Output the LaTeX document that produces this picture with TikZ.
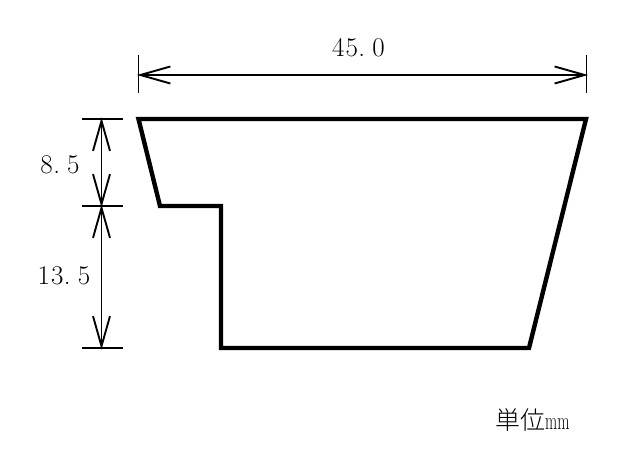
\documentclass[tikz,border=0pt]{standalone}
\usepackage{fontspec}
\newfontfamily\cjkfont{Noto Sans CJK JP Light}
\usetikzlibrary{arrows.meta}
\newcommand{\cellch}[1]{\makebox[13.4pt][c]{#1}}
\newcommand{\cellpt}{\makebox[13.4pt][l]{.}}
\tikzset{
  profile/.style={line width=4.4pt,line join=miter,miter limit=3},
  extline/.style={line width=1.8pt},
  dimline/.style={line width=1.8pt,shorten <=-1.6pt,shorten >=-1.6pt,{Straight Barb[length=30pt,width=17pt,line width=1.9pt]}-{Straight Barb[length=30pt,width=17pt,line width=1.9pt]}},
  dimtext/.style={inner sep=0pt,font=\fontsize{27pt}{30pt}\selectfont},
}
\begin{document}
\begin{tikzpicture}[x=1pt,y=-1pt]
\useasboundingbox (0,0) rectangle (636,463);
\coordinate (a) at (138.5,119);
\coordinate (b) at (586,119);
\coordinate (c) at (529,348);
\coordinate (d) at (221,348);
\coordinate (e) at (221,206);
\coordinate (f) at (160,206);
\draw[profile] (a) -- (b) -- (c) -- (d) -- (e) -- (f) -- cycle;
% top dimension
\coordinate (t1a) at (138.5,55); \coordinate (t1b) at (138.5,93);
\coordinate (t2a) at (586.5,55); \coordinate (t2b) at (586.5,93);
\coordinate (tl) at (138.5,75); \coordinate (tr) at (586.5,75);
\draw[extline] (t1a) -- (t1b);
\draw[extline] (t2a) -- (t2b);
\draw[dimline] (tl) -- (tr);
% left dimension
\coordinate (l1a) at (82,119); \coordinate (l1b) at (122.5,119);
\coordinate (l2a) at (82,206); \coordinate (l2b) at (122.5,206);
\coordinate (l3a) at (82,348); \coordinate (l3b) at (122.5,348);
\coordinate (v1) at (101.5,119); \coordinate (v2) at (101.5,206); \coordinate (v3) at (101.5,348);
\draw[extline] (l1a) -- (l1b);
\draw[extline] (l2a) -- (l2b);
\draw[extline] (l3a) -- (l3b);
\draw[dimline] (v1) -- (v2);
\draw[dimline] (v2) -- (v3);
\node[dimtext] (w) at (358.5,48) {\cellch{4}\cellch{5}\cellpt\cellch{0}};
\node[dimtext] (h1) at (60,165) {\cellch{8}\cellpt\cellch{5}};
\node[dimtext] (h2) at (64,276) {\cellch{1}\cellch{3}\cellpt\cellch{5}};
\node[inner sep=0pt,anchor=west] (u) at (495,420) {\cjkfont\fontsize{25pt}{28pt}\selectfont 単位\scalebox{0.63}[1]{\rmfamily mm}};
\end{tikzpicture}
\end{document}
